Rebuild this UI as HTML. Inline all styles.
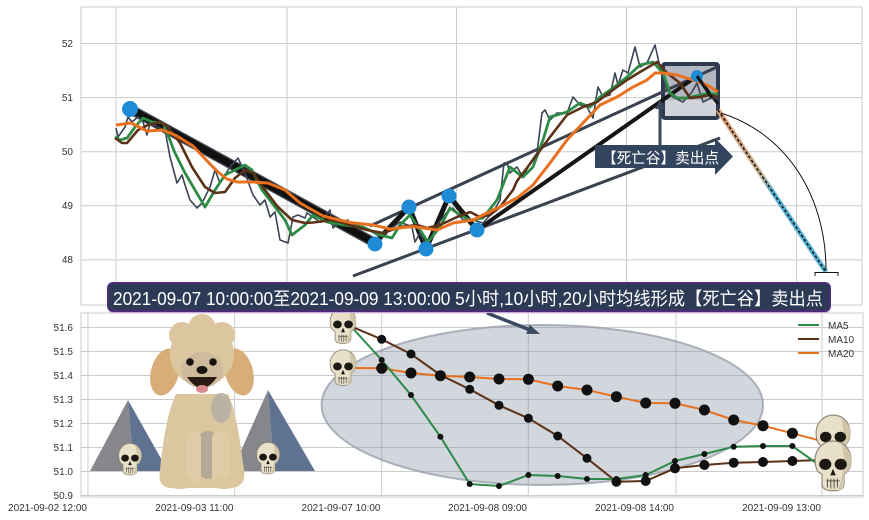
<!DOCTYPE html>
<html><head><meta charset="utf-8"><style>
html,body{margin:0;padding:0;background:#fff;}
svg{display:block;}
text{font-family:"Liberation Sans","Noto Sans CJK SC",sans-serif;}
</style></head><body>
<svg width="869" height="520" viewBox="0 0 869 520" xmlns="http://www.w3.org/2000/svg">
<defs>
<symbol id="skull" viewBox="0 0 40 48">
  <path d="M4,22 C2,8 12,1 20,1 C29,1 38,8 36,22 C35,28 32,30 30,31 L30,40 C30,44 27,46 20,46 C13,46 10,44 10,40 L10,31 C7,30 5,28 4,22 Z" fill="#e8e0c8" stroke="#8a8170" stroke-width="1"/>
  <path d="M28,4 C35,8 38,15 36,22 C35,28 32,30 30,31 L30,40 C30,44 27,46 24,46 C28,38 32,20 28,4Z" fill="#cfc5a8"/>
  <ellipse cx="13" cy="22" rx="5.5" ry="5" fill="#1c1814"/>
  <ellipse cx="27" cy="22" rx="5.5" ry="5" fill="#1c1814"/>
  <path d="M20,26 L17.5,32 L22.5,32 Z" fill="#1c1814"/>
  <path d="M14,37 L26,37 M15,35 V43 M18,35 V44 M21,35 V44 M24,35 V43" stroke="#5a5246" stroke-width="0.9" fill="none"/>
</symbol>
<linearGradient id="dg" x1="718" y1="112" x2="826" y2="272" gradientUnits="userSpaceOnUse">
  <stop offset="0" stop-color="#e0a070"/>
  <stop offset="0.4" stop-color="#c9b49a"/>
  <stop offset="0.5" stop-color="#5ab4d6"/>
  <stop offset="1" stop-color="#5ab4d6"/>
</linearGradient>
<clipPath id="topclip"><rect x="81" y="7" width="781" height="298"/></clipPath>
</defs>

<!-- ================= TOP AXES ================= -->
<rect x="81" y="7" width="781" height="298" fill="#fff" stroke="#cccccc" stroke-width="1"/>
<g stroke="#cccccc" stroke-width="1">
  <line x1="81" y1="43.5" x2="862" y2="43.5"/>
  <line x1="81" y1="97.6" x2="862" y2="97.6"/>
  <line x1="81" y1="151.7" x2="862" y2="151.7"/>
  <line x1="81" y1="205.8" x2="862" y2="205.8"/>
  <line x1="81" y1="259.9" x2="862" y2="259.9"/>
  <line x1="116" y1="7" x2="116" y2="305"/>
  <line x1="287" y1="7" x2="287" y2="305"/>
  <line x1="456.5" y1="7" x2="456.5" y2="305"/>
  <line x1="626.5" y1="7" x2="626.5" y2="305"/>
  <line x1="796.5" y1="7" x2="796.5" y2="305"/>
</g>
<g font-size="10" fill="#333" text-anchor="end">
  <text x="73" y="47">52</text>
  <text x="73" y="101">51</text>
  <text x="73" y="155">50</text>
  <text x="73" y="209">49</text>
  <text x="73" y="263">48</text>
</g>

<g clip-path="url(#topclip)">
<!-- box -->
<rect x="663" y="64" width="55" height="36" fill="#b3b7c1"/>
<rect x="663" y="100" width="55" height="18" fill="#d0d3d9"/>
<rect x="663" y="64" width="55" height="54" fill="none" stroke="#2d3a50" stroke-width="4" rx="2"/>

<!-- channel lines -->
<line x1="370" y1="226" x2="717" y2="67" stroke="#3a4150" stroke-width="3"/>
<line x1="353" y1="276" x2="720" y2="138" stroke="#3a4150" stroke-width="3"/>

<!-- thick trend -->
<line x1="130" y1="109" x2="375" y2="243" stroke="#4a4f5c" stroke-width="10"/>
<line x1="130" y1="109" x2="375" y2="243" stroke="#111" stroke-width="7.5"/>
<polyline points="375,243 409,207 426,249 449,196 477,230" fill="none" stroke="#151515" stroke-width="5" stroke-linejoin="round"/>
<line x1="477" y1="230" x2="697" y2="76" stroke="#151515" stroke-width="4"/>
<line x1="697" y1="76" x2="718" y2="104" stroke="#151515" stroke-width="3"/>

<!-- dashed gradient line -->
<line x1="718" y1="110" x2="826" y2="272" stroke="url(#dg)" stroke-width="5"/>
<line x1="718" y1="110" x2="826" y2="272" stroke="#111" stroke-width="1.5" stroke-dasharray="3,2"/>
<path d="M721,113 C790,135 826,200 826,270" fill="none" stroke="#111" stroke-width="1"/>
<path d="M815,276 V272.5 H838 V276" fill="none" stroke="#111" stroke-width="1"/>

<!-- price -->
<polyline fill="none" stroke="#3b4456" stroke-width="1.6" stroke-linejoin="round" points="116,128 118,137 125,127 128,117 132,122 138,117 143,122 147,135 150,123 158,127 165,130 170,157 173,168 177,183 182,175 185,185 190,200 197,208 202,203 210,187 215,170 220,183 225,175 230,167 238,158 245,173 253,195 260,205 265,200 270,217 275,212 280,240 288,243 293,217 298,215 305,218 307,213 313,217 320,222 330,210 333,228 340,222 348,220 350,225 358,225 365,228 372,232 379,236 387,232 400,222 412,227 415,242 420,233 427,247 437,225 447,212 453,208 463,220 473,220 483,223 493,212 500,200 504,163 507,163 510,173 513,170 517,167 523,177 530,163 537,153 542,113 545,110 550,120 557,113 567,113 573,97 580,105 587,107 593,118 598,87 603,97 610,95 615,73 618,85 623,70 628,73 635,47 640,67 647,63 655,45 660,67 667,90 673,97 683,102 692,92 697,83 703,102 713,97 718,100"/>
<!-- MA5 -->
<polyline fill="none" stroke="#2e8b45" stroke-width="2.8" stroke-linejoin="round" points="115,137 120,140 127,138 135,127 143,118 152,122 163,123 168,135 175,153 185,173 195,190 205,207 215,190 225,175 235,170 245,165 252,170 262,190 272,203 285,220 292,235 305,225 313,215 327,222 343,225 363,227 380,235 392,238 400,225 410,215 420,230 428,242 440,227 450,208 460,215 470,220 483,218 497,200 510,167 520,175 523,177 533,167 543,140 550,117 567,112 580,103 590,107 600,97 613,88 627,77 640,65 653,62 663,73 670,93 677,98 687,98 700,95 710,93 718,95"/>
<!-- MA10 -->
<polyline fill="none" stroke="#5b3217" stroke-width="2.6" stroke-linejoin="round" points="115,138 122,143 127,143 138,130 148,125 160,122 168,127 180,143 192,167 205,187 215,193 225,192 235,178 245,170 253,173 265,190 278,207 292,220 305,223 313,222.5 333,220 350,225 367,230 383,233 400,227 417,225 427,228 440,225 457,217 470,212 480,217 490,215 500,207 513,190 517,181 533,160 550,137 567,115 583,107 597,102 610,92 627,80 640,72 657,62 667,73 680,83 690,98 700,97 710,95 718,97"/>
<!-- MA20 -->
<polyline fill="none" stroke="#e8711f" stroke-width="3" stroke-linejoin="round" points="116,125 131,123 147,131 163,130 177,136 193,146 210,164 218,172 227,179 237,182 253,182 268,183 285,190 300,203 323,216 350,222.5 373,225 390,229 413,226.5 437,230 453,223 473,220 493,210 500,207 513,200 517,198 533,185 550,163 567,140 583,123 600,105 617,97 633,87 647,80 655,73 663,73 677,75 693,80 707,85 718,92"/>

<!-- blue dots -->
<g fill="#1f8bd6">
  <circle cx="130" cy="109" r="8"/>
  <circle cx="375" cy="244" r="7.5"/>
  <circle cx="409" cy="207" r="7.5"/>
  <circle cx="426" cy="249" r="7.5"/>
  <circle cx="449" cy="196" r="7.5"/>
  <circle cx="477" cy="230" r="7.5"/>
  <circle cx="697" cy="76" r="6"/>
</g>
<line x1="697" y1="76" x2="712" y2="98" stroke="#151515" stroke-width="3"/>

<!-- annotation arrow -->
<line x1="660" y1="145" x2="660" y2="106" stroke="#3a4860" stroke-width="3"/>
<polygon points="655,109 660,100 665,109" fill="#3a4860"/>
<polygon points="595,145 715,145 715,138 733,156.5 715,175 715,168 595,168" fill="#33445e"/>
<text x="602" y="163" font-size="15" fill="#fff" textLength="117" lengthAdjust="spacingAndGlyphs">【死亡谷】卖出点</text>
</g>

<!-- ================= BOTTOM AXES ================= -->
<rect x="81" y="313" width="782" height="184" fill="#fff" stroke="#cccccc" stroke-width="1"/>
<g stroke="#cccccc" stroke-width="1">
  <line x1="81" y1="327.5" x2="863" y2="327.5"/>
  <line x1="81" y1="351.5" x2="863" y2="351.5"/>
  <line x1="81" y1="375.5" x2="863" y2="375.5"/>
  <line x1="81" y1="399.5" x2="863" y2="399.5"/>
  <line x1="81" y1="423.5" x2="863" y2="423.5"/>
  <line x1="81" y1="447.5" x2="863" y2="447.5"/>
  <line x1="81" y1="471.5" x2="863" y2="471.5"/>
  <line x1="81" y1="495.5" x2="863" y2="495.5"/>
  <line x1="88" y1="313" x2="88" y2="497"/>
  <line x1="234.7" y1="313" x2="234.7" y2="497"/>
  <line x1="381.7" y1="313" x2="381.7" y2="497"/>
  <line x1="528.3" y1="313" x2="528.3" y2="497"/>
  <line x1="676" y1="313" x2="676" y2="497"/>
  <line x1="822" y1="313" x2="822" y2="497"/>
</g>
<g font-size="10" fill="#333" text-anchor="end">
  <text x="73" y="331">51.6</text>
  <text x="73" y="355">51.5</text>
  <text x="73" y="379">51.4</text>
  <text x="73" y="403">51.3</text>
  <text x="73" y="427">51.2</text>
  <text x="73" y="451">51.1</text>
  <text x="73" y="475">51.0</text>
  <text x="73" y="499">50.9</text>
  <text x="87" y="511">2021-09-02 12:00</text>
  <text x="233.5" y="511">2021-09-03 11:00</text>
  <text x="380.5" y="511">2021-09-07 10:00</text>
  <text x="527" y="511">2021-09-08 09:00</text>
  <text x="674" y="511">2021-09-08 14:00</text>
  <text x="821" y="511">2021-09-09 13:00</text>
</g>

<!-- ellipse -->
<ellipse cx="542.3" cy="405" rx="220.7" ry="80" fill="#8a93a5" fill-opacity="0.38" stroke="#9aa0aa" stroke-width="2" stroke-opacity="0.8"/>

<!-- bottom lines -->
<polyline fill="none" stroke="#e8711f" stroke-width="2" points="343,368 352.4,368 381.7,368.3 411,373 440.4,375.7 469.7,377 499,379 528.4,379.3 557.7,386 587,390 616.4,396.7 645.7,403 675,403.3 704.4,410 733.7,420 763,425.7 792.4,433.3 821.7,441"/>
<polyline fill="none" stroke="#5b3217" stroke-width="2" points="343,325 352.4,327 381.7,339.3 411,354 440.4,375 469.7,389.3 499,405.3 528.4,418.3 557.7,436 587,458.3 616.4,481.7 645.7,481 675,468.3 704.4,465 733.7,462.7 763,462 792.4,461 821.7,460"/>
<polyline fill="none" stroke="#2e8b4a" stroke-width="2" points="343,325 352.4,328 381.7,360 411,395 440.4,436.7 469.7,484 499,486 528.4,475 557.7,476 587,479 616.4,479 645.7,475 675,461 704.4,454 733.7,446.7 763,446 792.4,446 821.7,467"/>
<g fill="#111">
  <circle cx="381.7" cy="368.3" r="5.5"/><circle cx="411" cy="373" r="5.5"/><circle cx="440.4" cy="375.7" r="5.5"/><circle cx="469.7" cy="377" r="5.5"/><circle cx="499" cy="379" r="5.5"/><circle cx="528.4" cy="379.3" r="5.5"/><circle cx="557.7" cy="386" r="5.5"/><circle cx="587" cy="390" r="5.5"/><circle cx="616.4" cy="396.7" r="5.5"/><circle cx="645.7" cy="403" r="5.5"/><circle cx="675" cy="403.3" r="5.5"/><circle cx="704.4" cy="410" r="5.5"/><circle cx="733.7" cy="420" r="5.5"/><circle cx="763" cy="425.7" r="5.5"/><circle cx="792.4" cy="433.3" r="5.5"/>
  <circle cx="381.7" cy="339.3" r="4.5"/><circle cx="411" cy="354" r="4.5"/><circle cx="440.4" cy="375" r="4.5"/><circle cx="469.7" cy="389.3" r="4.5"/><circle cx="499" cy="405.3" r="4.5"/><circle cx="528.4" cy="418.3" r="4.5"/><circle cx="557.7" cy="436" r="4.5"/><circle cx="587" cy="458.3" r="4.5"/><circle cx="616.4" cy="481.7" r="5"/><circle cx="645.7" cy="481" r="5"/><circle cx="675" cy="468.3" r="5"/><circle cx="704.4" cy="465" r="5"/><circle cx="733.7" cy="462.7" r="5"/><circle cx="763" cy="462" r="5"/><circle cx="792.4" cy="461" r="5"/>
  <circle cx="381.7" cy="360" r="3"/><circle cx="411" cy="395" r="3"/><circle cx="440.4" cy="436.7" r="3"/><circle cx="469.7" cy="484" r="3"/><circle cx="499" cy="486" r="3"/><circle cx="528.4" cy="475" r="3"/><circle cx="557.7" cy="476" r="3"/><circle cx="587" cy="479" r="3"/><circle cx="616.4" cy="479" r="3"/><circle cx="645.7" cy="475" r="3"/><circle cx="675" cy="461" r="3"/><circle cx="704.4" cy="454" r="3"/><circle cx="733.7" cy="446.7" r="3"/><circle cx="763" cy="446" r="3"/><circle cx="792.4" cy="446" r="3"/>
</g>

<!-- legend -->
<g stroke-width="2">
  <line x1="798" y1="325" x2="819" y2="325" stroke="#2e8b4a"/>
  <line x1="798" y1="339" x2="819" y2="339" stroke="#5b3217"/>
  <line x1="798" y1="353" x2="819" y2="353" stroke="#e8711f"/>
</g>
<g font-size="10" fill="#333">
  <text x="828" y="329">MA5</text>
  <text x="828" y="343">MA10</text>
  <text x="828" y="357">MA20</text>
</g>

<!-- bottom arrow -->
<line x1="487" y1="313" x2="530" y2="330" stroke="#3b4a62" stroke-width="3.5"/>
<polygon points="540,334 526.2,333.9 529.8,324.7" fill="#3b4a62"/>

<!-- mountains -->
<polygon points="90,471 128,400 134,471" fill="#86878c"/>
<polygon points="128,400 134,471 168,471" fill="#5f7292"/>
<polygon points="232,471 268,390 274,471" fill="#86878c"/>
<polygon points="268,390 274,471 315,471" fill="#5f7292"/>

<!-- dog -->
<g>
  <ellipse cx="165" cy="372" rx="14" ry="24" fill="#d9ad78" transform="rotate(15 165 372)"/>
  <ellipse cx="239" cy="372" rx="14" ry="24" fill="#d9ad78" transform="rotate(-15 239 372)"/>
  <path d="M176,394 L228,394 C236,410 240,440 244,470 C246,482 240,488 230,488 L172,488 C162,488 158,482 160,470 C163,440 168,410 176,394 Z" fill="#dcc6a0"/>
  <ellipse cx="221" cy="408" rx="10" ry="15" fill="#b9b2a5"/>
  <ellipse cx="208" cy="455" rx="15" ry="24" fill="#b3a996"/>
  <rect x="186" y="432" width="15" height="52" rx="6" fill="#e0cba6"/>
  <rect x="212" y="432" width="17" height="52" rx="6" fill="#e0cba6"/>
  <ellipse cx="180" cy="483" rx="14" ry="6" fill="#dcc6a0"/>
  <ellipse cx="224" cy="483" rx="14" ry="6" fill="#dcc6a0"/>
  <circle cx="202" cy="354" r="32" fill="#dcc6a0"/>
  <circle cx="182" cy="335" r="13" fill="#dcc6a0"/>
  <circle cx="202" cy="328" r="14" fill="#dcc6a0"/>
  <circle cx="222" cy="335" r="13" fill="#dcc6a0"/>
  <ellipse cx="202" cy="370" rx="21" ry="18" fill="#cdbb9c"/>
  <circle cx="190" cy="362" r="3.8" fill="#1a1410"/>
  <circle cx="213" cy="362" r="3.8" fill="#1a1410"/>
  <ellipse cx="202" cy="370" rx="5.5" ry="4" fill="#1a1410"/>
  <path d="M187,377 Q202,399 217,377 Z" fill="#2a1a14"/>
  <ellipse cx="202" cy="389" rx="6" ry="4" fill="#d98a8a"/>
</g>
<use href="#skull" x="116" y="441" width="28" height="37"/>
<use href="#skull" x="254" y="440" width="28" height="37"/>

<!-- chart skulls -->
<use href="#skull" x="326" y="307" width="34" height="38"/>
<use href="#skull" x="326" y="349" width="34" height="38"/>
<use href="#skull" x="807" y="414" width="52" height="50"/>
<use href="#skull" x="807" y="440" width="52" height="53"/>

<!-- title banner -->
<rect x="108" y="284" width="722" height="29" rx="5" fill="#c9a8e0"/>
<rect x="108" y="283" width="722" height="28" rx="5" fill="#2c3a55" stroke="#4b2a78" stroke-width="2"/>
<text x="113" y="305" font-size="18" fill="#fff" textLength="710" lengthAdjust="spacingAndGlyphs">2021-09-07 10:00:00至2021-09-09 13:00:00 5小时,10小时,20小时均线形成【死亡谷】卖出点</text>
</svg>
</body></html>
